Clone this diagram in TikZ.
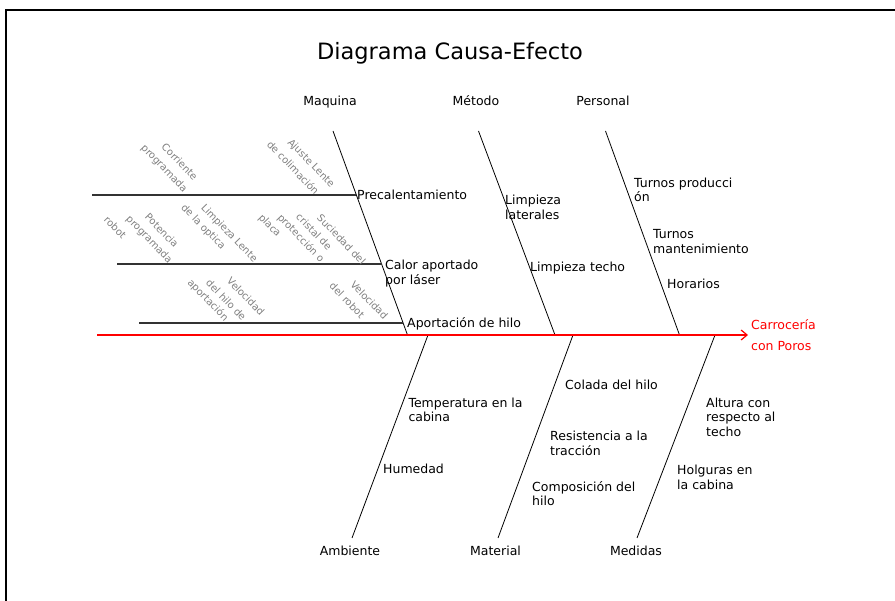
\documentclass[tikz,border=0pt]{standalone}
\usepackage{fontspec}
\setmainfont{DejaVu Sans}
\usetikzlibrary{arrows.meta}
\begin{document}
\begin{tikzpicture}[x=1pt,y=-1pt,
  lbl/.style={anchor=base west, inner sep=0pt, align=left, font=\fontsize{12.5}{14.5}\selectfont},
  cat/.style={anchor=base, inner sep=0pt, font=\fontsize{12.5}{14.5}\selectfont},
  gtxt/.style={anchor=west, inner sep=0pt, rotate=-46, text=black!50, font=\fontsize{10}{12}\selectfont},
  bone/.style={line width=0.8pt},
  subbone/.style={line width=1.2pt, draw=black!80},
  spine/.style={line width=1.2pt, draw=red, -{Straight Barb[length=6pt,width=10pt,line width=1.2pt]}}]
\useasboundingbox (0,0) rectangle (895,601);
\draw[line width=1.6pt] (895,10) -- (6,10) -- (6,601);

\node[anchor=base, inner sep=0pt, font=\fontsize{22.5}{26}\selectfont] (title) at (450,60) {Diagrama Causa-Efecto};

% bone end points
\coordinate (m1) at (333,131);   \coordinate (m2) at (407.5,335);
\coordinate (t1) at (478.5,131); \coordinate (t2) at (555,335);
\coordinate (p1) at (605.5,131); \coordinate (p2) at (679.5,335);
\coordinate (a1) at (428,335);   \coordinate (a2) at (352,538);
\coordinate (ma1) at (573,335);  \coordinate (ma2) at (498,538);
\coordinate (me1) at (715,335);  \coordinate (me2) at (637,538);
\coordinate (s1) at (97,335);    \coordinate (s2) at (748,335);
\coordinate (h1a) at (92,195);   \coordinate (h1b) at (356.4,195);
\coordinate (h2a) at (117,264);  \coordinate (h2b) at (381.6,264);
\coordinate (h3a) at (139,323);  \coordinate (h3b) at (403.1,323);

\draw[bone] (m1) -- (m2);
\draw[bone] (t1) -- (t2);
\draw[bone] (p1) -- (p2);
\draw[bone] (a1) -- (a2);
\draw[bone] (ma1) -- (ma2);
\draw[bone] (me1) -- (me2);
\draw[subbone] (h1a) -- (h1b);
\draw[subbone] (h2a) -- (h2b);
\draw[subbone] (h3a) -- (h3b);
\draw[spine] (s1) -- (s2);

% category labels
\node[cat] (maq) at (330,105.6) {Maquina};
\node[cat] (met) at (476,105.6) {Método};
\node[cat] (per) at (603,105.6) {Personal};
\node[cat] (amb) at (350,555.6) {Ambiente};
\node[cat] (mat) at (495.5,555.6) {Material};
\node[cat] (med) at (636,555.6) {Medidas};

% cause labels (base = baseline of the last line)
\node[lbl] (c1) at (357,199.6) {Precalentamiento};
\node[lbl] (c2) at (385,284.1) {Calor aportado\\por láser};
\node[lbl] (c3) at (407,328) {Aportación de hilo};
\node[lbl] (c4) at (505,219.1) {Limpieza\\laterales};
\node[lbl] (c5) at (530,271.3) {Limpieza techo};
\node[lbl] (c6) at (634,201.8) {Turnos producci\\ón};
\node[lbl] (c7) at (653,253.1) {Turnos\\mantenimiento};
\node[lbl] (c8) at (667,288.6) {Horarios};
\node[lbl] (c9) at (408.3,421.8) {Temperatura en la\\cabina};
\node[lbl] (c10) at (383,474) {Humedad};
\node[lbl] (c11) at (565,389.6) {Colada del hilo};
\node[lbl] (c12) at (550,455.1) {Resistencia a la\\tracción};
\node[lbl] (c13) at (532,505.8) {Composición del\\hilo};
\node[lbl] (c14) at (706,436.3) {Altura con\\respecto al\\techo};
\node[lbl] (c15) at (677,489.1) {Holguras en\\la cabina};
\node[lbl, text=red, font=\fontsize{12.5}{21.5}\selectfont] (eff) at (751,351) {Carrocería\\con Poros};

% rotated gray sub-causes
\node[gtxt] (g1) at (163.5,145) {Corriente};
\node[gtxt] (g2) at (142.5,146.5) {programada};
\node[gtxt] (g3) at (289,141) {Ajuste Lente};
\node[gtxt] (g4) at (269,142.5) {de colimación};
\node[gtxt] (g5) at (202.5,206) {Limpieza Lente};
\node[gtxt] (g6) at (182.5,206) {de la optica};
\node[gtxt] (g7) at (147,215) {Potencia};
\node[gtxt] (g8) at (127.5,217.5) {programada};
\node[gtxt] (g9) at (106,217.5) {robot};
\node[gtxt] (g10) at (319,216) {Suciedad del};
\node[gtxt] (g11) at (298,215) {cristal de};
\node[gtxt] (g12) at (279,216) {protección o};
\node[gtxt] (g13) at (260,216) {placa};
\node[gtxt] (g14) at (229,279) {Velocidad};
\node[gtxt] (g15) at (208,281) {del hilo de};
\node[gtxt] (g16) at (189,281) {aportación};
\node[gtxt] (g17) at (352.5,282.5) {Velocidad};
\node[gtxt] (g18) at (331.5,284) {del robot};
\end{tikzpicture}
\end{document}
